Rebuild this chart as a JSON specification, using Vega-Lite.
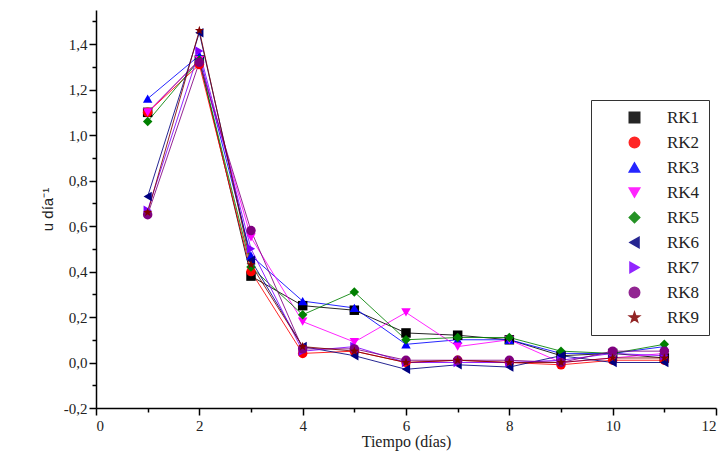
{
  "$schema": "https://vega.github.io/schema/vega-lite/v6.json",
  "width": 620,
  "height": 398,
  "autosize": {"type": "none"},
  "padding": {"left": 96, "top": 10, "right": 11, "bottom": 47},
  "background": "white",
  "config": {"view": {"stroke": null},
    "axis": {"labelFont": "Liberation Serif", "labelFontSize": 15, "labelColor": "#222", "grid": false, "domainColor": "black", "tickColor": "black", "domainWidth": 1.5, "tickWidth": 1.5},
    "legend": {"labelFont": "Liberation Serif", "labelFontSize": 17, "labelColor": "#222", "symbolSize": 110, "rowPadding": 7}},
  "data": {"values": [
    {"dia": 1, "serie": "RK1", "u": 1.10}, {"dia": 2, "serie": "RK1", "u": 1.33}, {"dia": 3, "serie": "RK1", "u": 0.38}, {"dia": 4, "serie": "RK1", "u": 0.25}, {"dia": 5, "serie": "RK1", "u": 0.23}, {"dia": 6, "serie": "RK1", "u": 0.13}, {"dia": 7, "serie": "RK1", "u": 0.12}, {"dia": 8, "serie": "RK1", "u": 0.10}, {"dia": 9, "serie": "RK1", "u": 0.03}, {"dia": 10, "serie": "RK1", "u": 0.04}, {"dia": 11, "serie": "RK1", "u": 0.02},
    {"dia": 1, "serie": "RK2", "u": 1.10}, {"dia": 2, "serie": "RK2", "u": 1.31}, {"dia": 3, "serie": "RK2", "u": 0.40}, {"dia": 4, "serie": "RK2", "u": 0.04}, {"dia": 5, "serie": "RK2", "u": 0.05}, {"dia": 6, "serie": "RK2", "u": 0.00}, {"dia": 7, "serie": "RK2", "u": 0.01}, {"dia": 8, "serie": "RK2", "u": 0.00}, {"dia": 9, "serie": "RK2", "u": -0.01}, {"dia": 10, "serie": "RK2", "u": 0.01}, {"dia": 11, "serie": "RK2", "u": 0.01},
    {"dia": 1, "serie": "RK3", "u": 1.16}, {"dia": 2, "serie": "RK3", "u": 1.35}, {"dia": 3, "serie": "RK3", "u": 0.47}, {"dia": 4, "serie": "RK3", "u": 0.27}, {"dia": 5, "serie": "RK3", "u": 0.24}, {"dia": 6, "serie": "RK3", "u": 0.08}, {"dia": 7, "serie": "RK3", "u": 0.10}, {"dia": 8, "serie": "RK3", "u": 0.10}, {"dia": 9, "serie": "RK3", "u": 0.04}, {"dia": 10, "serie": "RK3", "u": 0.04}, {"dia": 11, "serie": "RK3", "u": 0.07},
    {"dia": 1, "serie": "RK4", "u": 1.10}, {"dia": 2, "serie": "RK4", "u": 1.33}, {"dia": 3, "serie": "RK4", "u": 0.55}, {"dia": 4, "serie": "RK4", "u": 0.18}, {"dia": 5, "serie": "RK4", "u": 0.09}, {"dia": 6, "serie": "RK4", "u": 0.22}, {"dia": 7, "serie": "RK4", "u": 0.07}, {"dia": 8, "serie": "RK4", "u": 0.10}, {"dia": 9, "serie": "RK4", "u": 0.00}, {"dia": 10, "serie": "RK4", "u": 0.02}, {"dia": 11, "serie": "RK4", "u": 0.04},
    {"dia": 1, "serie": "RK5", "u": 1.06}, {"dia": 2, "serie": "RK5", "u": 1.33}, {"dia": 3, "serie": "RK5", "u": 0.42}, {"dia": 4, "serie": "RK5", "u": 0.21}, {"dia": 5, "serie": "RK5", "u": 0.31}, {"dia": 6, "serie": "RK5", "u": 0.10}, {"dia": 7, "serie": "RK5", "u": 0.11}, {"dia": 8, "serie": "RK5", "u": 0.11}, {"dia": 9, "serie": "RK5", "u": 0.05}, {"dia": 10, "serie": "RK5", "u": 0.04}, {"dia": 11, "serie": "RK5", "u": 0.08},
    {"dia": 1, "serie": "RK6", "u": 0.73}, {"dia": 2, "serie": "RK6", "u": 1.45}, {"dia": 3, "serie": "RK6", "u": 0.45}, {"dia": 4, "serie": "RK6", "u": 0.07}, {"dia": 5, "serie": "RK6", "u": 0.03}, {"dia": 6, "serie": "RK6", "u": -0.03}, {"dia": 7, "serie": "RK6", "u": -0.01}, {"dia": 8, "serie": "RK6", "u": -0.02}, {"dia": 9, "serie": "RK6", "u": 0.03}, {"dia": 10, "serie": "RK6", "u": 0.00}, {"dia": 11, "serie": "RK6", "u": 0.00},
    {"dia": 1, "serie": "RK7", "u": 0.67}, {"dia": 2, "serie": "RK7", "u": 1.37}, {"dia": 3, "serie": "RK7", "u": 0.50}, {"dia": 4, "serie": "RK7", "u": 0.05}, {"dia": 5, "serie": "RK7", "u": 0.07}, {"dia": 6, "serie": "RK7", "u": 0.00}, {"dia": 7, "serie": "RK7", "u": 0.00}, {"dia": 8, "serie": "RK7", "u": 0.00}, {"dia": 9, "serie": "RK7", "u": 0.01}, {"dia": 10, "serie": "RK7", "u": 0.04}, {"dia": 11, "serie": "RK7", "u": 0.03},
    {"dia": 1, "serie": "RK8", "u": 0.65}, {"dia": 2, "serie": "RK8", "u": 1.32}, {"dia": 3, "serie": "RK8", "u": 0.58}, {"dia": 4, "serie": "RK8", "u": 0.06}, {"dia": 5, "serie": "RK8", "u": 0.06}, {"dia": 6, "serie": "RK8", "u": 0.01}, {"dia": 7, "serie": "RK8", "u": 0.01}, {"dia": 8, "serie": "RK8", "u": 0.01}, {"dia": 9, "serie": "RK8", "u": 0.00}, {"dia": 10, "serie": "RK8", "u": 0.05}, {"dia": 11, "serie": "RK8", "u": 0.05},
    {"dia": 1, "serie": "RK9", "u": 0.66}, {"dia": 2, "serie": "RK9", "u": 1.46}, {"dia": 3, "serie": "RK9", "u": 0.43}, {"dia": 4, "serie": "RK9", "u": 0.07}, {"dia": 5, "serie": "RK9", "u": 0.05}, {"dia": 6, "serie": "RK9", "u": 0.00}, {"dia": 7, "serie": "RK9", "u": 0.01}, {"dia": 8, "serie": "RK9", "u": 0.00}, {"dia": 9, "serie": "RK9", "u": 0.00}, {"dia": 10, "serie": "RK9", "u": 0.02}, {"dia": 11, "serie": "RK9", "u": 0.02}
  ]},
  "encoding": {
    "x": {"field": "dia", "type": "quantitative",
      "scale": {"domain": [0, 12], "nice": false, "zero": false},
      "axis": {"title": "Tiempo (días)", "values": [0,1,2,3,4,5,6,7,8,9,10,11,12],
        "labelExpr": "datum.value % 2 === 0 ? '' + datum.value : ''",
        "tickSize": {"condition": {"test": "datum.value % 2 === 0", "value": 7}, "value": 4},
        "labelFont": "Liberation Serif", "labelFontSize": 15,
        "titleFont": "Liberation Serif", "titleFontSize": 16, "titleFontWeight": "normal", "titleColor": "#222", "titlePadding": 0, "labelPadding": 3}},
    "y": {"field": "u", "type": "quantitative",
      "scale": {"domain": [-0.2, 1.55], "nice": false, "zero": false},
      "axis": {"title": "u día⁻¹", "values": [-0.2,-0.1,0,0.1,0.2,0.3,0.4,0.5,0.6,0.7,0.8,0.9,1.0,1.1,1.2,1.3,1.4,1.5],
        "labelExpr": "abs(round(datum.value*10)) % 2 === 0 ? (datum.value < 0 ? '-' : '') + replace(format(abs(datum.value), '.1f'), '.', ',') : ''",
        "tickSize": {"condition": {"test": "abs(round(datum.value*10)) % 2 === 0", "value": 7}, "value": 4},
        "labelFont": "Liberation Serif", "labelFontSize": 15,
        "titleFont": "Liberation Sans", "titleFontSize": 15, "titleFontWeight": "normal", "titleColor": "#222", "titlePadding": 8}},
    "color": {"field": "serie", "type": "nominal",
      "scale": {"domain": ["RK1","RK2","RK3","RK4","RK5","RK6","RK7","RK8","RK9"],
        "range": ["#000000","#ff0000","#0000ff","#ff00ff","#008000","#000080","#8000ff","#800080","#800000"]},
      "legend": {"title": null, "orient": "none", "legendX": 495, "legendY": 90,
        "strokeColor": "#333", "padding": 9, "symbolOffset": 26, "labelOffset": 24,
        "fillColor": "white"}}
  },
  "layer": [
    {"mark": {"type": "line", "strokeWidth": 1, "opacity": 0.85}, "encoding": {"detail": {"field": "serie"}}},
    {"mark": {"type": "point", "filled": true, "size": 90, "opacity": 1},
     "encoding": {"shape": {"field": "serie", "type": "nominal",
       "scale": {"domain": ["RK1","RK2","RK3","RK4","RK5","RK6","RK7","RK8","RK9"],
         "range": ["square","circle","triangle-up","triangle-down","diamond","triangle-left","triangle-right","circle","M0,-1L0.235,-0.324L0.951,-0.309L0.380,0.124L0.588,0.809L0,0.4L-0.588,0.809L-0.380,0.124L-0.951,-0.309L-0.235,-0.324Z"]},
       "legend": {"title": null}}}}
  ]
}
